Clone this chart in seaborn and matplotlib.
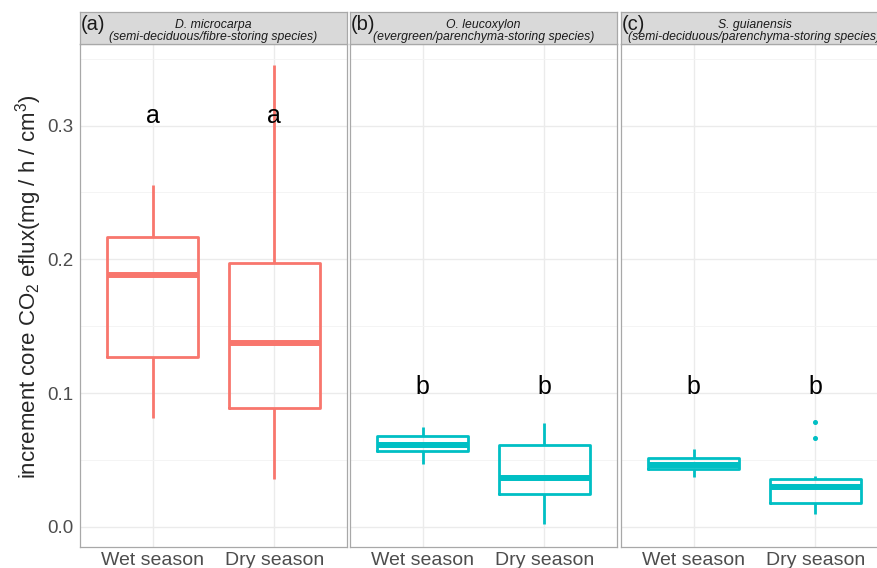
import pandas as pd
import numpy as np
import matplotlib.pyplot as plt
import seaborn as sns

seasons = ['Wet season', 'Dry season']
species = ['D. microcarpa', 'O. leucoxylon', 'S. guianensis']
panel_tags = ['(a)', '(b)', '(c)']
subtitles = ['(semi-deciduous/fibre-storing species)',
             '(evergreen/parenchyma-storing species)',
             '(semi-deciduous/parenchyma-storing species)']
sig_letters = [['a', 'a'], ['b', 'b'], ['b', 'b']]
letter_y = [0.302, 0.099, 0.099]

dmic_wet = [0.0818, 0.127, 0.188, 0.2168, 0.2555]
dmic_dry = [0.0358, 0.0888, 0.1375, 0.197, 0.345]
oleu_wet = [0.0472, 0.0564, 0.0614, 0.0682, 0.0744]
oleu_dry = [0.0022, 0.0247, 0.0365, 0.0609, 0.0777]
sgui_wet = [0.0372, 0.0432, 0.0464, 0.0517, 0.0582]
sgui_dry = [0.0097, 0.0140, 0.0165, 0.0182, 0.0220, 0.0265, 0.0295,
            0.0320, 0.0340, 0.0357, 0.0377, 0.0667, 0.0781]

groups = {
    ('D. microcarpa', 'Wet season'): dmic_wet,
    ('D. microcarpa', 'Dry season'): dmic_dry,
    ('O. leucoxylon', 'Wet season'): oleu_wet,
    ('O. leucoxylon', 'Dry season'): oleu_dry,
    ('S. guianensis', 'Wet season'): sgui_wet,
    ('S. guianensis', 'Dry season'): sgui_dry,
}
rows = []
for (sp, se), vals in groups.items():
    for v in vals:
        rows.append({'species': sp, 'season': se, 'efflux': v})
df = pd.DataFrame(rows)

colors = ['#F8766D', '#00BFC4', '#00BFC4']

sns.set_style('white')
plt.rcParams['font.family'] = ['Liberation Sans', 'DejaVu Sans']
plt.rcParams['mathtext.fontset'] = 'custom'
plt.rcParams['mathtext.rm'] = 'Liberation Sans'
plt.rcParams['mathtext.it'] = 'Liberation Sans:italic'

W, H = 878, 568
fig = plt.figure(figsize=(W / 100, H / 100), dpi=100)

lefts = [80, 350, 621]
pw = 267
ptop, pbot = 44, 547
stop = 12

for i, sp in enumerate(species):
    ax = fig.add_axes([lefts[i] / W, (H - pbot) / H, pw / W, (pbot - ptop) / H])
    sub = df[df['species'] == sp]
    col = colors[i]
    sns.boxplot(data=sub, x='season', y='efflux', order=seasons, ax=ax,
                color=col, fill=False, width=0.75, linewidth=2.0,
                showcaps=False,
                medianprops={'linewidth': 4.3, 'color': col},
                flierprops={'marker': 'o', 'markersize': 2.6,
                            'markerfacecolor': col, 'markeredgecolor': col})
    ax.set_xlim(-0.6, 1.6)
    ax.set_ylim(-0.015, 0.361)
    ax.set_yticks([0.0, 0.1, 0.2, 0.3])
    ax.set_yticks([0.05, 0.15, 0.25, 0.35], minor=True)
    ax.grid(True, which='major', color='#EBEBEB', linewidth=1.0)
    ax.grid(True, which='minor', axis='y', color='#F3F3F3', linewidth=0.6)
    ax.set_axisbelow(True)
    for s in ax.spines.values():
        s.set_color('#A8A8A8')
        s.set_linewidth(0.9)
    ax.set_xlabel('')
    ax.tick_params(axis='x', labelsize=14, colors='#A8A8A8', length=2,
                   width=0.8, pad=1.5, labelcolor='#4D4D4D')
    if i == 0:
        ax.set_ylabel(r'increment core CO$_2$ eflux(mg / h / cm$^3$)',
                      fontsize=16)
        ax.yaxis.set_label_coords(-0.135, 0.517)
        ax.set_yticklabels(['0.0', '0.1', '0.2', '0.3'])
        ax.tick_params(axis='y', labelsize=13.5, colors='#A8A8A8', length=2.5,
                       width=0.8, pad=2, labelcolor='#4D4D4D')
    else:
        ax.set_ylabel('')
        ax.set_yticklabels([])
        ax.tick_params(axis='y', length=0)
    ax.tick_params(axis='y', which='minor', length=0)
    for j, lab in enumerate(sig_letters[i]):
        ax.text(j, letter_y[i], lab, ha='center', va='baseline', fontsize=18,
                color='black')

    # facet strip
    sax = fig.add_axes([lefts[i] / W, (H - ptop) / H, pw / W, (ptop - stop) / H])
    sax.set_facecolor('#D9D9D9')
    sax.set_xticks([])
    sax.set_yticks([])
    for s in sax.spines.values():
        s.set_color('#A8A8A8')
        s.set_linewidth(0.9)
    sax.text(0.004, 0.6, panel_tags[i], transform=sax.transAxes, ha='left',
             va='center', fontsize=14.5, color='#1A1A1A')
    sax.text(0.5, 0.6, sp, transform=sax.transAxes, ha='center', va='center',
             fontsize=8.8, style='italic', color='#1A1A1A')
    sax.text(0.5, 0.22, subtitles[i], transform=sax.transAxes, ha='center',
             va='center', fontsize=8.8, style='italic', color='#1A1A1A')

fig.savefig('out.png', dpi=100)
